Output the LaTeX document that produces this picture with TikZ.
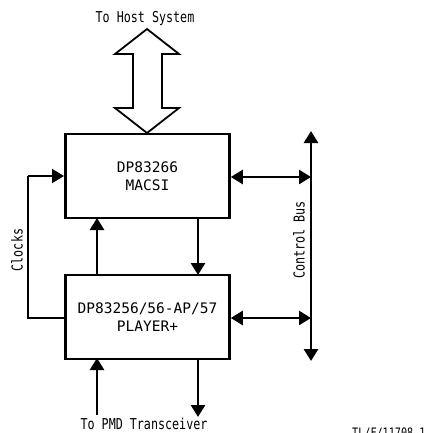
\documentclass[tikz,border=0pt]{standalone}
\usepackage{fontspec}
\setmonofont{DejaVu Sans Mono}
\newfontfamily\plotfont[FakeStretch=0.78]{DejaVu Sans Mono}
\newfontfamily\boxfont{DejaVu Sans Mono}
\usetikzlibrary{arrows.meta}
\begin{document}
\begin{tikzpicture}[x=1pt,y=-1pt,
  blk/.style={draw,line width=2.6pt,minimum width=164pt,minimum height=84pt,inner sep=0pt,align=center,font=\boxfont\fontsize{14.5}{18}\selectfont},
  lbl/.style={font=\plotfont\fontsize{15}{16}\selectfont,inner sep=0pt},
  tri/.style={-{Triangle[length=12pt,width=14pt]}},
  dtri/.style={{Triangle[length=12pt,width=14pt]}-{Triangle[length=12pt,width=14pt]}},
  thick line/.style={line width=2.6pt}]
\useasboundingbox (0,0) rectangle (437,432);
\node[blk] (macsi) at (147.5,176) {DP83266\\MACSI};
\node[blk] (player) at (147.5,317) {DP83256/56-AP/57\\PLAYER+};
% host arrow
\draw[line width=1.8pt,line join=miter] (147,29) -- (115,54) -- (133,54) -- (133,108) -- (115,108) -- (147,133) -- (179,108) -- (162,108) -- (162,54) -- (179,54) -- cycle;
\node[lbl] (host) at (145,18) {To Host System};
% vertical arrows between boxes
\draw[thick line,tri] (97,275) -- (97,218);
\draw[thick line,tri] (198,218) -- (198,275);
% clocks
\coordinate (c1) at (28,318);
\coordinate (c2) at (28,176);
\draw[line width=2pt] (64,318) -- (c1) -- (c2);
\draw[line width=2pt,tri] (c2) -- (64,176);
\node[lbl,rotate=90] (clk) at (17,250) {Clocks};
% control bus
\coordinate (cbt) at (311,131);
\coordinate (cbb) at (311,361);
\draw[thick line,dtri] (cbb) -- (cbt);
\node[lbl,rotate=90] (cb) at (299,240) {Control Bus};
\draw[thick line,dtri] (macsi.east |- 0,177) -- (311,177);
\draw[thick line,dtri] (player.east |- 0,318) -- (311,318);
% PMD
\draw[thick line,tri] (97,415) -- (97,358);
\draw[thick line,tri] (198,358) -- (198,417);
\node[lbl] (pmd) at (144,424) {To PMD Transceiver};
\node[font=\plotfont\fontsize{13}{14}\selectfont,inner sep=0pt,anchor=base west] (tl) at (352,437) {TL/F/11708–1};
\end{tikzpicture}
\end{document}
